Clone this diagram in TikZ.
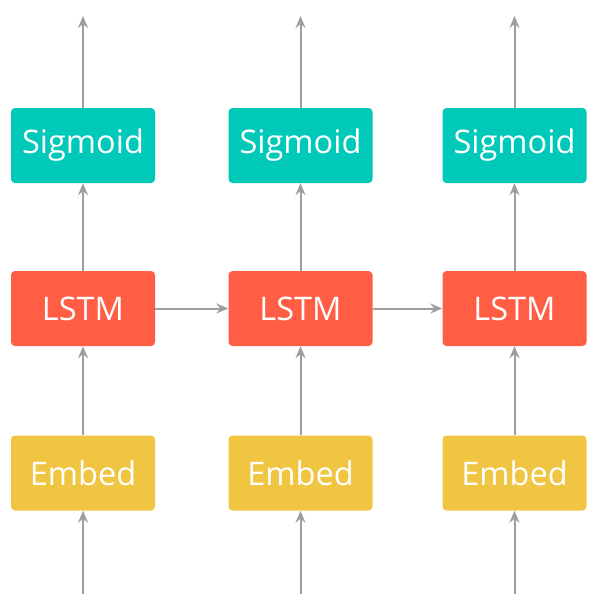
\documentclass[tikz,border=0pt]{standalone}
\usepackage{fontspec}
\setmainfont{Open Sans}
\usetikzlibrary{arrows.meta}
\definecolor{sigc}{HTML}{00C9B9}
\definecolor{lstmc}{HTML}{FF5E45}
\definecolor{embc}{HTML}{F0C541}
\definecolor{arrc}{HTML}{9E9E9E}
\begin{document}
\begin{tikzpicture}[x=1pt,y=-1pt,
  box/.style={minimum width=144pt,minimum height=75pt,rounded corners=4pt,inner sep=0pt,text=white,font=\fontsize{32.5}{38}\selectfont},
  sigbox/.style={box,fill=sigc},
  lstmbox/.style={box,fill=lstmc},
  embbox/.style={box,fill=embc},
  conn/.style={draw=arrc,line width=2pt,-{Stealth[length=12pt,width=10pt,inset=4pt]}}]
\useasboundingbox (0,0) rectangle (615,600);
\foreach \i/\x in {1/83,2/300.5,3/514.5}{
  \node[sigbox] (s\i) at (\x,145.5) {Sigmoid};
  \node[lstmbox] (l\i) at (\x,308.5) {LSTM};
  \node[embbox] (e\i) at (\x,473) {Embed};
  \coordinate (top\i) at (\x,16);
  \coordinate (bot\i) at (\x,594);
  \draw[conn] (bot\i) -- (e\i);
  \draw[conn] (e\i) -- (l\i);
  \draw[conn] (l\i) -- (s\i);
  \draw[conn] (s\i) -- (top\i);
}
\draw[conn] (l1) -- (l2);
\draw[conn] (l2) -- (l3);
\end{tikzpicture}
\end{document}
